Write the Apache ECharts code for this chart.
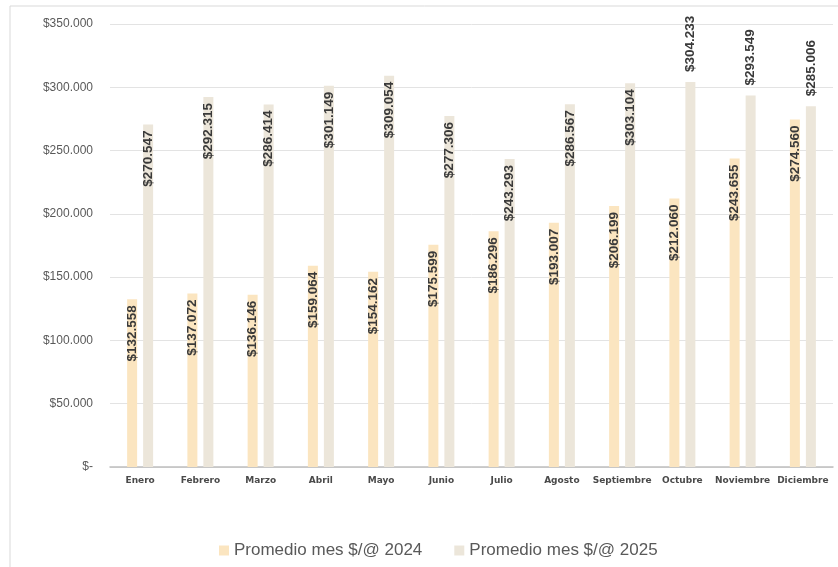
<!DOCTYPE html>
<html>
<head>
<meta charset="utf-8">
<script src="https://cdn.jsdelivr.net/npm/echarts@6/dist/echarts.min.js"></script>
<style>
html,body{margin:0;padding:0;background:#fff;}
#c{width:838px;height:567px;}
</style>
</head>
<body>
<div id="c"></div>
<script>
const categories = ['Enero','Febrero','Marzo','Abril','Mayo','Junio','Julio','Agosto','Septiembre','Octubre','Noviembre','Diciembre'];
const values2024 = [132558,137072,136146,159064,154162,175599,186296,193007,206199,212060,243655,274560];
const values2025 = [270547,292315,286414,301149,309054,277306,243293,286567,303104,304233,293549,285006];
const labelOutside2025 = [false,false,false,false,false,false,false,false,false,true,true,true];
const seriesNames = ['Promedio mes $/@ 2024','Promedio mes $/@ 2025'];

function fmt(v){ return '$' + String(v).replace(/\B(?=(\d{3})+(?!\d))/g, '.'); }

const labelBase = {
  show: true, rotate: 90, position: 'insideTop', align: 'right', verticalAlign: 'middle',
  distance: 6, color: '#3a3a3a', fontSize: 13.5, fontWeight: 'bold',
  fontFamily: "'Liberation Sans',sans-serif",
  formatter: p => fmt(p.value)
};

const chart = echarts.init(document.getElementById('c'));
chart.setOption({
  animation: false,
  graphic: [{ type: 'rect', shape: { x: 10, y: 6, width: 840, height: 580 }, style: { fill: 'none', stroke: '#d9d9d9', lineWidth: 1 }, silent: true }],
  grid: { left: 110, right: 5, top: 24, bottom: 100 },
  legend: {
    bottom: 3, left: 214, itemWidth: 10, itemHeight: 10, itemGap: 32, icon: 'rect',
    textStyle: { color: '#595959', fontSize: 17, fontFamily: "'Liberation Sans',sans-serif" },
    data: seriesNames
  },
  xAxis: {
    type: 'category', data: categories,
    axisLine: { lineStyle: { color: '#bfbfbf', width: 1.5 } },
    axisTick: { show: false },
    axisLabel: { color: '#4a4a4a', fontSize: 9, fontWeight: 'bold', margin: 9, interval: 0, fontFamily: "'DejaVu Sans',sans-serif" }
  },
  yAxis: {
    type: 'value', min: 0, max: 350000, interval: 50000,
    axisLine: { show: false }, axisTick: { show: false },
    splitLine: { lineStyle: { color: '#e3e3e3' } },
    axisLabel: { color: '#595959', fontSize: 12, margin: 17, fontFamily: "'Liberation Sans',sans-serif",
      formatter: v => v === 0 ? '$-' : fmt(v) }
  },
  series: [
    { name: seriesNames[0], type: 'bar', data: values2024, barWidth: 10, barGap: '60%',
      itemStyle: { color: '#fbe5c0' }, label: labelBase },
    { name: seriesNames[1], type: 'bar', barWidth: 10,
      data: values2025.map((v, i) => labelOutside2025[i]
        ? { value: v, label: { position: 'top', align: 'left', distance: 10 } }
        : v),
      itemStyle: { color: '#ece6da' }, label: labelBase }
  ]
});
</script>
</body>
</html>
